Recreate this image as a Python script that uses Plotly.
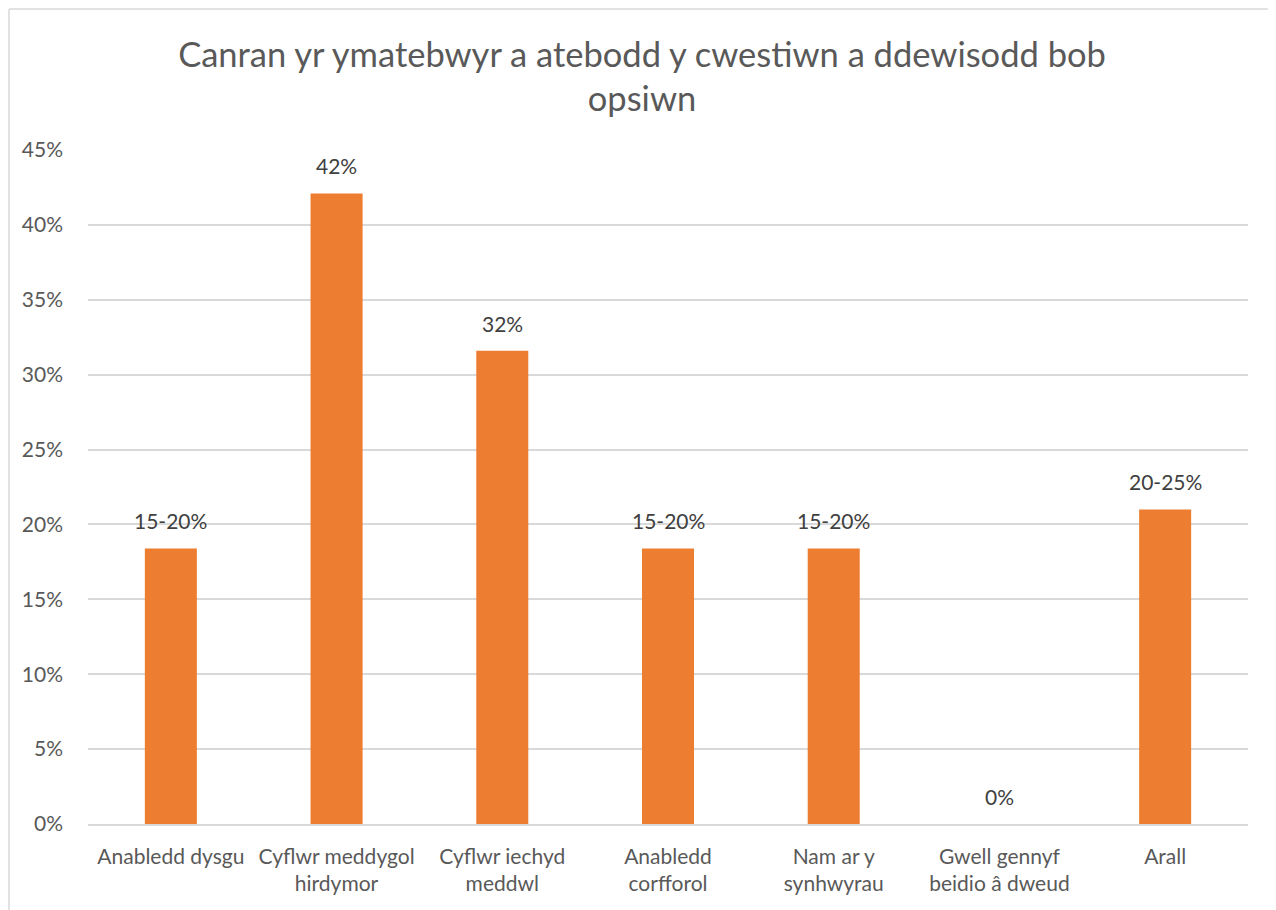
import plotly.graph_objects as go

categories = ["Anabledd dysgu", "Cyflwr meddygol<br>hirdymor", "Cyflwr iechyd<br>meddwl",
              "Anabledd<br>corfforol", "Nam ar y<br>synhwyrau", "Gwell gennyf<br>beidio â dweud", "Arall"]
values = [0.184, 0.421, 0.316, 0.184, 0.184, 0.0, 0.210]
labels = ["15-20%", "42%", "32%", "15-20%", "15-20%", "0%", "20-25%"]
title_text = "Canran yr ymatebwyr a atebodd y cwestiwn a ddewisodd bob<br>opsiwn"

FONT = "Lato"
GREY = "#595959"

W, H = 1268, 902
L, R, T, B = 80, 28, 142, 86
PW, PH = W - L - R, H - T - B

fig = go.Figure()
fig.add_trace(go.Bar(x=categories, y=values, marker=dict(color="#ED7D31", line=dict(width=0)),
                     hoverinfo="skip"))

annotations = []
for c, v, t in zip(categories, values, labels):
    annotations.append(dict(x=c, y=v, text=t, showarrow=False, xref="x", yref="y",
                            yanchor="bottom", yshift=13,
                            font=dict(family=FONT, size=21, color="#404040")))

fig.update_layout(
    width=W, height=H,
    margin=dict(l=L, r=R, t=T, b=B, autoexpand=False),
    paper_bgcolor="white", plot_bgcolor="white",
    title=dict(text=title_text, x=0.5, xanchor="center", y=0.935, yanchor="top",
               font=dict(family=FONT, size=34.5, color=GREY)),
    bargap=0.686,
    showlegend=False,
    annotations=annotations,
    xaxis=dict(showgrid=False, showline=True, linecolor="#d9d9d9", linewidth=1.5,
               tickfont=dict(family=FONT, size=21, color=GREY), ticks="",
               ticklabelstandoff=13, fixedrange=True),
    yaxis=dict(range=[0, 0.45], dtick=0.05, tickformat=".0%", showgrid=True,
               gridcolor="#d9d9d9", gridwidth=1.5, zeroline=False, showline=False,
               tickfont=dict(family=FONT, size=21, color=GREY), ticks="",
               ticklabelstandoff=24, fixedrange=True),
    shapes=[
        dict(type="line", xref="paper", yref="paper", x0=(1 - L) / PW, x1=(W - L) / PW,
             y0=(PH + T - 1) / PH, y1=(PH + T - 1) / PH, line=dict(color="#d9d9d9", width=1.5)),
        dict(type="line", xref="paper", yref="paper", x0=(1 - L) / PW, x1=(1 - L) / PW,
             y0=(PH + T - 1) / PH, y1=-B / PH, line=dict(color="#d9d9d9", width=1.5)),
    ],
)

fig.write_html("out.html")
